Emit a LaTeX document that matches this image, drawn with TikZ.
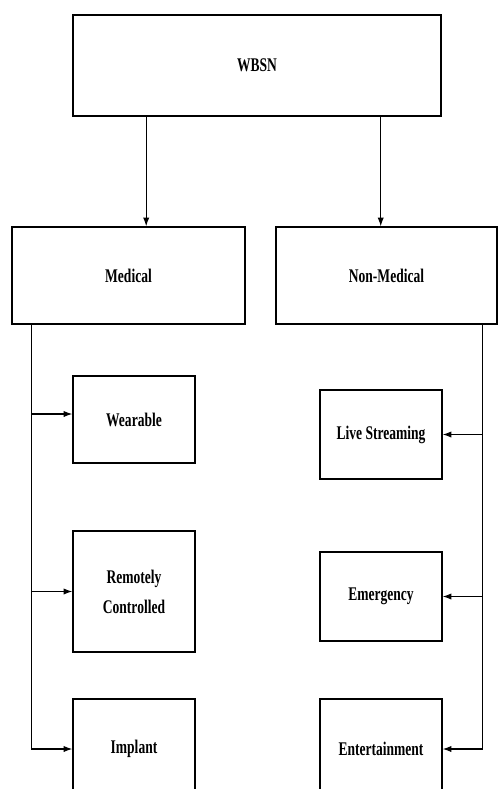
\documentclass[tikz,border=0pt]{standalone}
\usepackage{fontspec}
\setmainfont{Liberation Serif}[FakeStretch=0.7]
\usetikzlibrary{arrows.meta, calc, positioning}
\tikzset{
    box/.style={draw, line width=0.8pt, inner sep=0pt, align=center,
        font=\bfseries\fontsize{11}{17}\selectfont},
    link/.style={draw, line width=0.6pt},
    arr/.style={link, -{Latex[length=5pt,width=3.6pt]}}
}

\begin{document}
\begin{tikzpicture}[x=0.02cm, y=-0.02cm]
        \clip (0,0) rectangle (498,789);
        \node[box, minimum width=7.36cm, minimum height=2.02cm] (wbsn) at (257,65.5) {WBSN};
        \node[box, minimum width=4.66cm, minimum height=1.94cm] (medical) at (128.5,275.5) {Medical};
        \node[box, minimum width=4.42cm, minimum height=1.94cm] (nonmed) at (386.5,275.5) {Non-Medical};
        % medical branch
        \node[box, minimum width=2.44cm, minimum height=1.74cm] (wearable) at (134,419.5) {Wearable};
        \node[box, minimum width=2.44cm, minimum height=2.42cm] (remote) at (134,591.5) {Remotely\\Controlled};
        \node[box, minimum width=2.44cm, minimum height=2.00cm] (implant) at (134,749) {Implant};
        % non-medical branch
        \node[box, minimum width=2.44cm, minimum height=1.78cm] (live) at (381,434.5) {Live Streaming};
        \node[box, minimum width=2.44cm, minimum height=1.78cm] (emerg) at (381,596.5) {Emergency};
        \node[box, minimum width=2.44cm, minimum height=2.00cm] (entert) at (381,749) {Entertainment};

        \coordinate (wl) at ($(wbsn.south west)!0.2!(wbsn.south east)$);
        \coordinate (wr) at ($(wbsn.south west)!0.835!(wbsn.south east)$);
        \draw[arr] (wl) -- (wl |- medical.north);
        \draw[arr] (wr) -- (wr |- nonmed.north);

        \coordinate (mtop) at ($(medical.south west)+(20,0)$);
        \coordinate (ntop) at ($(nonmed.south east)+(-15,0)$);
        \coordinate (wearin) at ($(wearable.west)+(0,-5.5)$);
        \draw[arr] (mtop) |- (implant.west);
        \draw[arr] (mtop |- wearin) -- (wearin);
        \draw[arr] (mtop |- remote.west) -- (remote.west);
        \draw[arr] (ntop) |- (entert.east);
        \draw[arr] (ntop |- live.east) -- (live.east);
        \draw[arr] (ntop |- emerg.east) -- (emerg.east);
    \end{tikzpicture}
\end{document}
